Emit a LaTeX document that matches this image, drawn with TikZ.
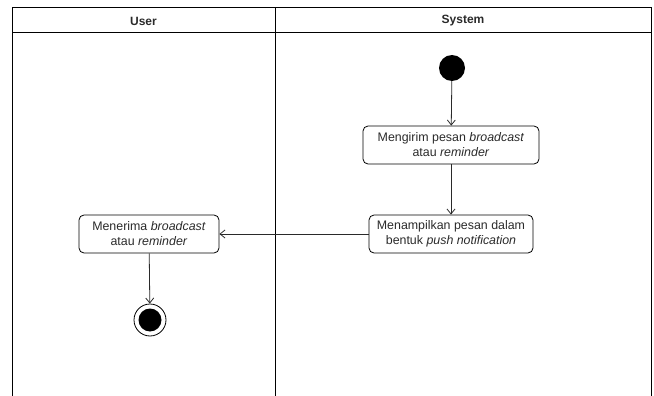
\documentclass[tikz,border=0pt]{standalone}
\usepackage{fontspec}
\setmainfont{Liberation Sans}
\usepackage{xcolor}
\usepackage{tikz}
\usetikzlibrary{arrows.meta, positioning}

\definecolor{txt}{HTML}{2A2A2A}

\begin{document}
\begin{tikzpicture}[x=1pt, y=-1pt, >={Straight Barb[length=5pt,width=8pt]}]
		\tikzstyle{act} = [draw=black, thick, rounded corners=5pt, align=center, inner sep=0pt, minimum height=38pt, font=\fontsize{12.4}{15}\selectfont, text=txt]
		\tikzstyle{startdot} = [circle, fill=black, inner sep=0pt, minimum size=26pt]
		\tikzstyle{enddot} = [circle, draw=black, thick, inner sep=0pt, minimum size=32pt]
		\tikzstyle{lane} = [draw=black, line width=1pt]
		\tikzstyle{head} = [font=\fontsize{12}{14}\selectfont\bfseries, text=txt]
		\tikzstyle{arrow} = [->, line width=0.8pt, draw=txt]

		\useasboundingbox (0,0) rectangle (654,396);

		% swimlanes
		\draw[lane] (12,396) -- (12,8) -- (651,8) -- (651,396);
		\draw[lane] (12,33) -- (651,33);
		\draw[lane] (275,8) -- (275,396);
		\node[head] at (143.5,21) (user) {User};
		\node[head] at (463,21) (system) {System};

		\node[startdot] at (452,68) (start) {};
		\node[act, minimum width=176pt] at (451,145) (mengirim) {Mengirim pesan \textit{broadcast}\\atau \textit{reminder}};
		\node[act, minimum width=164pt] at (451,234) (menampilkan) {Menampilkan pesan dalam\\bentuk \textit{push notification}};
		\node[act, minimum width=140pt] at (149,234) (menerima) {Menerima \textit{broadcast}\\atau \textit{reminder}};
		\node[enddot] at (150,320) (fin) {};
		\node[circle, fill=black, inner sep=0pt, minimum size=23pt] at (fin) (finin) {};

		\path[arrow]
		(start) 	edge	(mengirim)
		(mengirim) 	edge	(menampilkan)
		(menampilkan) 	edge	(menerima)
		(menerima) 	edge	(fin);
	\end{tikzpicture}
\end{document}
